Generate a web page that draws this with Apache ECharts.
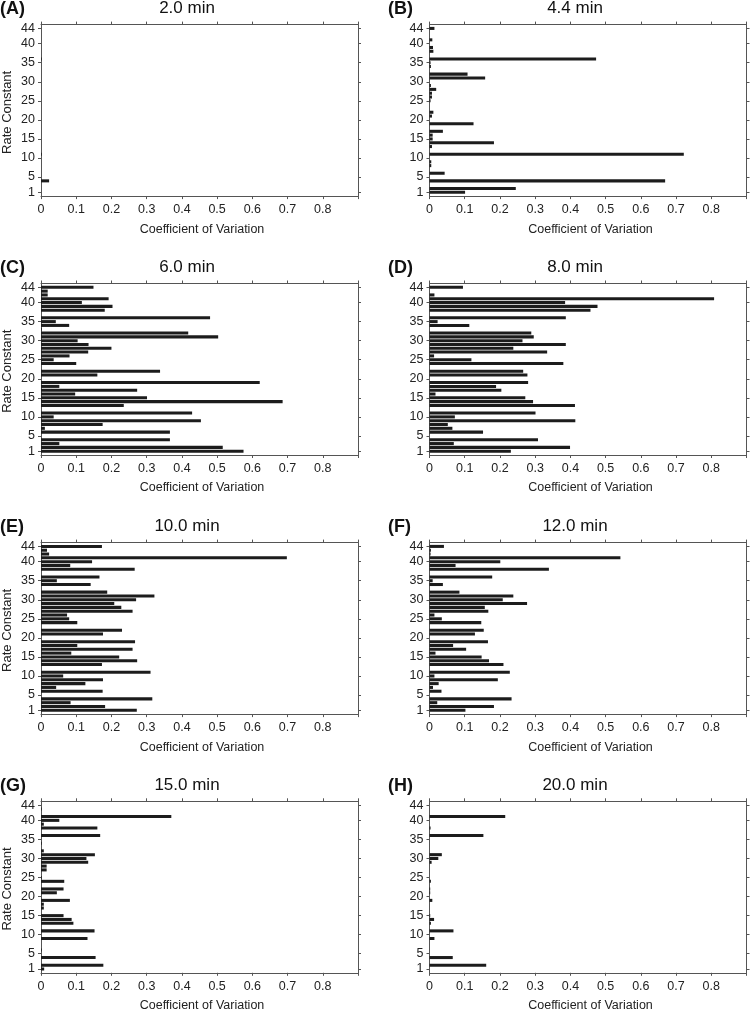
<!DOCTYPE html>
<html>
<head>
<meta charset="utf-8">
<script src="https://cdn.jsdelivr.net/npm/echarts@6/dist/echarts.min.js"></script>
<style>
html,body{margin:0;padding:0;background:#fff;}
#chart{width:752px;height:1012px;}
</style>
</head>
<body>
<div id="chart"></div>
<script>
// ---------- DATA ----------
const rateConstants = [1,2,3,4,5,6,7,8,9,10,11,12,13,14,15,16,17,18,19,20,21,22,23,24,25,26,27,28,29,30,31,32,33,34,35,36,37,38,39,40,41,42,43,44];
const yTickLabels = [1,5,10,15,20,25,30,35,40,44];
const xTickLabels = ['0','0.1','0.2','0.3','0.4','0.5','0.6','0.7','0.8'];
const panelTitles = ['2.0 min','4.4 min','6.0 min','8.0 min','10.0 min','12.0 min','15.0 min','20.0 min'];
const panelLetters = ['(A)','(B)','(C)','(D)','(E)','(F)','(G)','(H)'];

// coefficient of variation per rate constant 1..44
const cv_2_0 = [0,0,0,0.023,0,0,0,0,0,0,0.002,0,0,0,0,0,0,0,0,0,0,0,0,0,0,0,0,0,0,0,0,0,0,0,0,0.002,0,0,0,0,0,0,0,0];
const cv_4_4 = [0.101,0.245,0,0.669,0,0.043,0,0.005,0.005,0,0.722,0,0.007,0.183,0.009,0.009,0.038,0,0.125,0,0.007,0.011,0,0,0.003,0.007,0.007,0.019,0.004,0,0.158,0.108,0,0.004,0.003,0.473,0,0.011,0.010,0,0.008,0,0,0.014];
const cv_6_0 = [0.575,0.516,0.052,0.366,0,0.366,0.011,0.175,0.454,0.036,0.429,0,0.235,0.686,0.301,0.097,0.273,0.052,0.621,0,0.160,0.338,0,0.100,0.036,0.081,0.134,0.200,0.135,0.104,0.503,0.418,0.002,0.080,0.042,0.480,0,0.181,0.203,0.116,0.192,0.019,0.019,0.149];
const cv_8_0 = [0.231,0.399,0.069,0.308,0,0.152,0.065,0.052,0.414,0.072,0.301,0,0.413,0.294,0.272,0.017,0.204,0.189,0.280,0,0.278,0.266,0,0.380,0.119,0.013,0.334,0.238,0.387,0.264,0.296,0.289,0,0.113,0.023,0.387,0,0.457,0.477,0.385,0.808,0.014,0,0.095];
const cv_10_0 = [0.272,0.182,0.084,0.316,0,0.175,0.043,0.126,0.176,0.063,0.311,0,0.173,0.273,0.222,0.086,0.260,0.103,0.267,0,0.176,0.230,0,0.103,0.080,0.074,0.260,0.228,0.208,0.270,0.322,0.188,0,0.141,0.045,0.166,0,0.266,0.083,0.145,0.698,0.023,0.017,0.173];
const cv_12_0 = [0.102,0.183,0.022,0.233,0,0.034,0.010,0.026,0.194,0.014,0.228,0,0.210,0.169,0.148,0.017,0.104,0.067,0.166,0,0.129,0.154,0,0.147,0.035,0.014,0.167,0.157,0.277,0.208,0.238,0.085,0,0.038,0.009,0.178,0,0.339,0.074,0.201,0.542,0.003,0.004,0.041];
const cv_15_0 = [0.009,0.177,0,0.155,0,0.002,0,0,0.132,0,0.152,0,0.092,0.087,0.064,0,0.008,0.008,0.082,0,0.045,0.064,0,0.066,0.002,0,0.016,0.016,0.134,0.129,0.153,0.008,0,0.002,0,0.168,0,0.160,0.008,0.052,0.370,0,0.002,0];
const cv_20_0 = [0,0.161,0,0.066,0,0,0,0,0.014,0,0.068,0,0.004,0.013,0.002,0,0,0,0.008,0,0.002,0.002,0,0.004,0,0,0,0,0.006,0.025,0.035,0,0,0,0,0.153,0,0.003,0,0,0.215,0,0,0];
const panelValues = [cv_2_0, cv_4_4, cv_6_0, cv_8_0, cv_10_0, cv_12_0, cv_15_0, cv_20_0];

// ---------- LAYOUT ----------
const FONT = '"Liberation Sans", Arial, Helvetica, sans-serif';
const colLeft = [41, 429.5];
const rowTop = [24.6, 283.5, 542.6, 801.3];
const plotW = 317, plotH = 171.5;
const frameColor = '#555';
const textColor = '#222';

// padded category list so that axis spans 0..45 with 1..44 on points
const yCats = ['0'].concat(rateConstants.map(String), ['45']);
const showY = (idx, val) => yTickLabels.indexOf(Number(val)) >= 0;

const grid = [], xAxis = [], yAxis = [], series = [], graphic = [];

panelValues.forEach((vals, i) => {
  const col = i % 2, row = Math.floor(i / 2);
  const L = colLeft[col], T = rowTop[row];
  grid.push({left: L, top: T, width: plotW, height: plotH, containLabel: false});

  const axisLineStyle = {show: true, onZero: false, lineStyle: {color: frameColor, width: 1}};
  // bottom x axis
  xAxis.push({
    type: 'value', gridIndex: i, position: 'bottom', min: 0, max: 0.9, interval: 0.1,
    axisLine: axisLineStyle,
    axisTick: {show: true, length: 3, lineStyle: {color: frameColor}},
    splitLine: {show: false},
    axisLabel: {
      color: textColor, fontFamily: FONT, fontSize: 12.5, margin: 7,
      formatter: v => { const k = Math.round(v * 10); return k < xTickLabels.length ? xTickLabels[k] : ''; }
    }
  });
  // top x axis (frame + ticks)
  xAxis.push({
    type: 'value', gridIndex: i, position: 'top', min: 0, max: 0.9, interval: 0.1,
    axisLine: axisLineStyle,
    axisTick: {show: true, length: 3, lineStyle: {color: frameColor}},
    splitLine: {show: false}, axisLabel: {show: false}
  });
  // left y axis
  yAxis.push({
    type: 'category', gridIndex: i, position: 'left', data: yCats, boundaryGap: false,
    axisLine: axisLineStyle,
    axisTick: {show: true, length: 3, interval: showY, lineStyle: {color: frameColor}},
    axisLabel: {show: true, interval: showY, color: textColor, fontFamily: FONT, fontSize: 12.5, margin: 6},
    splitLine: {show: false}
  });
  // right y axis (frame + ticks)
  yAxis.push({
    type: 'category', gridIndex: i, position: 'right', data: yCats, boundaryGap: false,
    axisLine: axisLineStyle,
    axisTick: {show: true, length: 3, interval: showY, lineStyle: {color: frameColor}},
    axisLabel: {show: false}, splitLine: {show: false}
  });

  series.push({
    type: 'bar', xAxisIndex: 2 * i, yAxisIndex: 2 * i,
    data: [null].concat(vals, [null]),
    barWidth: '80%',
    itemStyle: {color: '#1c1c1c'},
    silent: true, animation: false
  });

  // title
  graphic.push({
    type: 'text', x: (col === 0 ? 187 : 575), y: T - 16.3,
    style: {text: panelTitles[i], font: '17px ' + FONT, fill: '#111', textAlign: 'center', textVerticalAlign: 'middle'}
  });
  // panel letter
  graphic.push({
    type: 'text', x: (col === 0 ? 0 : 388), y: T - 15.5,
    style: {text: panelLetters[i], font: 'bold 18px ' + FONT, fill: '#111', textAlign: 'left', textVerticalAlign: 'middle'}
  });
  // x axis name
  graphic.push({
    type: 'text', x: L + 161, y: T + plotH + 33,
    style: {text: 'Coefficient of Variation', font: '12.5px ' + FONT, fill: textColor, textAlign: 'center', textVerticalAlign: 'middle'}
  });
  // y axis name (left column only)
  if (col === 0) {
    graphic.push({
      type: 'text', x: 7, y: T + plotH / 2 + 2, rotation: Math.PI / 2,
      style: {text: 'Rate Constant', font: '13px ' + FONT, fill: textColor, textAlign: 'center', textVerticalAlign: 'middle'}
    });
  }
});

const chart = echarts.init(document.getElementById('chart'), null, {renderer: 'canvas'});
chart.setOption({
  animation: false,
  backgroundColor: '#fff',
  grid, xAxis, yAxis, series, graphic
});
</script>
</body>
</html>
